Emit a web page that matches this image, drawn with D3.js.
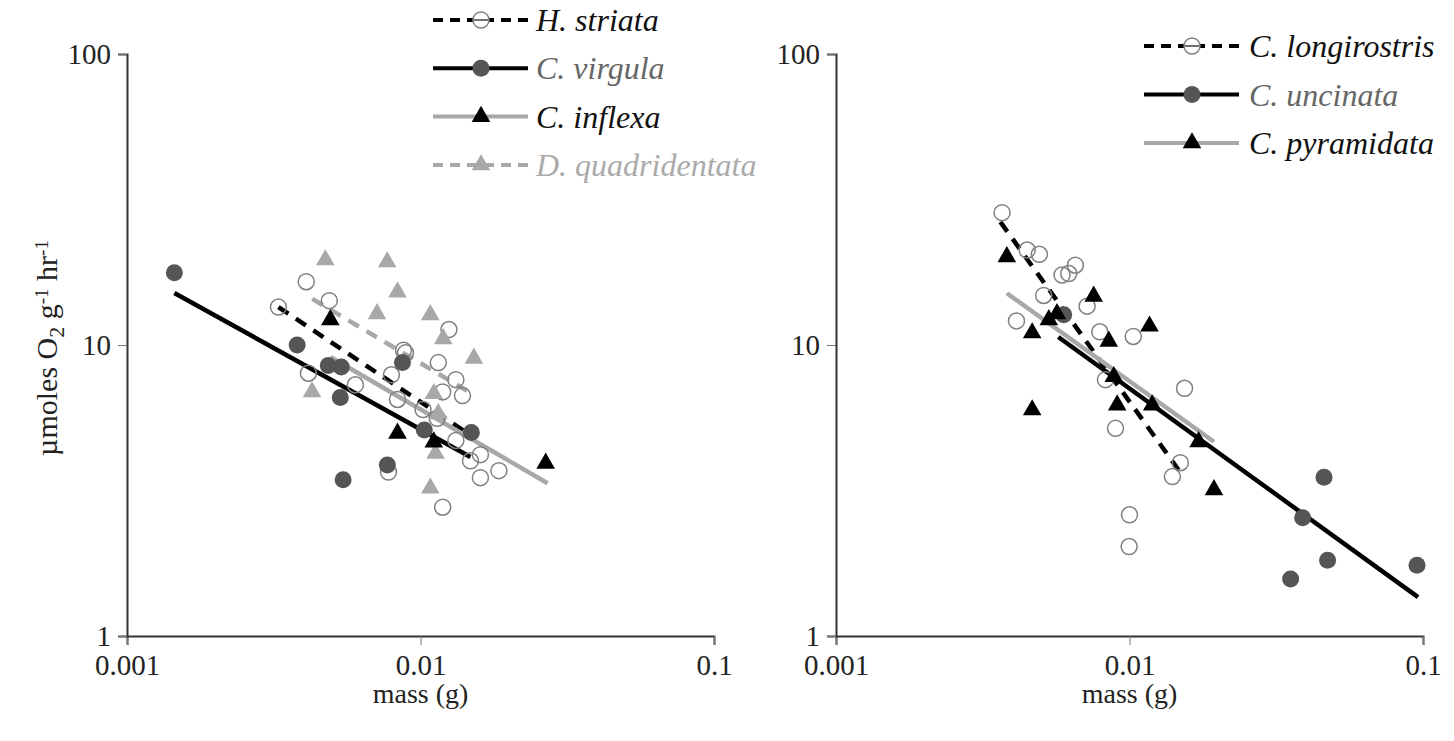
<!DOCTYPE html>
<html>
<head>
<meta charset="utf-8">
<script src="https://cdn.jsdelivr.net/npm/d3@7"></script>
<style>
  body { margin: 0; background: #fff; }
  svg text { font-family: "Liberation Serif", "Times New Roman", "DejaVu Serif", serif; }
</style>
</head>
<body>
<div id="chart"></div>
<script>
// mass (g), rate (umol O2 / g / hr)
const hStriata = [
  [0.00328, 13.5], [0.00408, 16.5], [0.00489, 14.2], [0.00415, 8.0], [0.0060, 7.3],
  [0.00796, 7.9], [0.00835, 6.5], [0.00875, 9.6], [0.00889, 9.4], [0.0102, 6.0],
  [0.0115, 8.7], [0.0119, 6.9], [0.0125, 11.3], [0.0132, 7.6], [0.0139, 6.7],
  [0.0114, 5.6], [0.0132, 4.7], [0.0148, 4.0], [0.0160, 4.2], [0.0160, 3.5],
  [0.0185, 3.7], [0.0119, 2.77], [0.00778, 3.66]
];
const cVirgula = [
  [0.00145, 17.7], [0.0038, 10.0], [0.00485, 8.5], [0.00537, 8.4], [0.00533, 6.6],
  [0.00545, 3.44], [0.00868, 8.7], [0.00771, 3.87], [0.0103, 5.1], [0.0149, 5.0]
];
const cInflexa = [
  [0.00493, 12.2], [0.00835, 4.97], [0.0111, 4.64], [0.0267, 3.92]
];
const dQuadridentata = [
  [0.00474, 19.6], [0.0077, 19.3], [0.00835, 15.2], [0.00711, 12.8], [0.0108, 12.7],
  [0.01195, 10.5], [0.00427, 6.9], [0.0111, 6.8], [0.0152, 9.0], [0.01125, 4.24],
  [0.0108, 3.22], [0.0115, 5.8]
];
const cLongirostris = [
  [0.00368, 28.5], [0.00448, 21.2], [0.00493, 20.5], [0.00589, 17.4], [0.00621, 17.6],
  [0.00654, 18.8], [0.0051, 14.8], [0.00717, 13.6], [0.00412, 12.1], [0.00792, 11.1],
  [0.0103, 10.7], [0.00828, 7.6], [0.0154, 7.1], [0.00896, 5.17], [0.0149, 3.94],
  [0.0140, 3.53], [0.0100, 2.61], [0.00997, 2.03]
];
const cUncinata = [
  [0.00597, 12.7], [0.046, 3.51], [0.0389, 2.55], [0.0473, 1.82], [0.0354, 1.57], [0.0954, 1.75]
];
const cPyramidata = [
  [0.00382, 20.1], [0.00466, 11.0], [0.00755, 14.7], [0.00531, 12.2], [0.00566, 12.8],
  [0.0085, 10.3], [0.0117, 11.6], [0.00908, 6.22], [0.00884, 7.78], [0.01195, 6.22],
  [0.0172, 4.65], [0.0194, 3.18], [0.00466, 5.98]
];

// fitted lines: [start, end]
const fitHStriata = [[0.00328, 13.5], [0.0153, 4.79]];
const fitCVirgula = [[0.00145, 15.1], [0.0148, 4.12]];
const fitCInflexa = [[0.00493, 9.09], [0.0271, 3.35]];
const fitDQuadridentata = [[0.00428, 14.4], [0.0150, 6.79]];
const fitCLongirostris = [[0.00363, 26.5], [0.0147, 3.72]];
const fitCUncinata = [[0.00572, 10.65], [0.0962, 1.36]];
const fitCPyramidata = [[0.00382, 15.06], [0.0194, 4.65]];

const xTicks = [0.001, 0.01, 0.1];
const yTicks = [1, 10, 100];
const xTickLabels = ["0.001", "0.01", "0.1"];
const yTickLabels = ["1", "10", "100"];

const W = 1454, H = 741;
const DARK = "#555", LIGHT = "#a8a8a8", OPEN = "#808080";

const svg = d3.select("#chart").append("svg")
  .attr("width", W).attr("height", H);

const styles = {
  hStriata: { marker: "open", line: "#000", dash: "12,9", text: "#111" },
  cVirgula: { marker: "dot", line: "#000", dash: null, text: "#666" },
  cInflexa: { marker: "tri", fill: "#000", line: LIGHT, dash: null, text: "#111" },
  dQuad: { marker: "tri", fill: LIGHT, line: LIGHT, dash: "12,9", text: "#aaa" },
  cLong: { marker: "open", line: "#000", dash: "12,9", text: "#111" },
  cUnc: { marker: "dot", line: "#000", dash: null, text: "#666" },
  cPyr: { marker: "tri", fill: "#000", line: LIGHT, dash: null, text: "#111" }
};

function drawMarker(g, st, cx, cy) {
  if (st.marker === "open") {
    g.append("circle").attr("cx", cx).attr("cy", cy).attr("r", 8)
      .attr("fill", "none").attr("stroke", OPEN).attr("stroke-width", 1.5);
  } else if (st.marker === "dot") {
    g.append("circle").attr("cx", cx).attr("cy", cy).attr("r", 8.5)
      .attr("fill", DARK);
  } else {
    g.append("path")
      .attr("transform", `translate(${cx},${cy})`)
      .attr("d", d3.symbol(d3.symbolTriangle, 150)())
      .attr("fill", st.fill);
  }
}

function panel(x0, series, legend) {
  const x = d3.scaleLog().domain([0.001, 0.1]).range([x0, x0 + 587]);
  const y = d3.scaleLog().domain([1, 100]).range([636, 54]);
  const g = svg.append("g");

  const xAxis = g.append("g")
    .attr("transform", "translate(0,636)")
    .call(d3.axisBottom(x).tickValues(xTicks).tickSizeOuter(0).tickSize(9)
      .tickFormat((d, i) => xTickLabels[i]));
  const yAxis = g.append("g")
    .attr("transform", `translate(${x0},0)`)
    .call(d3.axisLeft(y).tickValues(yTicks).tickSizeOuter(0).tickSize(9)
      .tickFormat((d, i) => yTickLabels[i]));
  [xAxis, yAxis].forEach(a => {
    a.attr("font-family", null).attr("font-size", null);
    a.select(".domain").attr("stroke", "#333").attr("stroke-width", 2);
    a.selectAll(".tick line").attr("stroke", "#777").attr("stroke-width", 1);
    a.selectAll(".tick text").attr("fill", "#222")
      .attr("font-size", 29).style("font-size", "29px");
  });
  xAxis.selectAll(".tick text").attr("y", 11).attr("dy", "0.95em");
  yAxis.selectAll(".tick text").attr("x", -16).attr("dy", "0.34em");

  g.append("text")
    .attr("x", x(0.01)).attr("y", 703)
    .attr("text-anchor", "middle").attr("fill", "#222")
    .style("font-size", "28px").text("mass (g)");

  const line = d3.line().x(d => x(d[0])).y(d => y(d[1]));
  series.forEach(s => {
    g.append("path").datum(s.fit)
      .attr("d", line).attr("fill", "none")
      .attr("stroke", s.st.line).attr("stroke-width", 4.5)
      .attr("stroke-dasharray", s.st.dash);
  });
  series.forEach(s => {
    s.pts.forEach(p => drawMarker(g, s.st, x(p[0]), y(p[1])));
  });

  // legend
  legend.rows.forEach((r, i) => {
    const ly = legend.y + i * legend.step;
    const lx = legend.x;
    g.append("line")
      .attr("x1", lx).attr("x2", lx + 95).attr("y1", ly).attr("y2", ly)
      .attr("stroke", r.st.line).attr("stroke-width", 4)
      .attr("stroke-dasharray", r.st.dash ? "10,7" : null);
    if (r.st.marker === "open") {
      g.append("circle").attr("cx", lx + 48).attr("cy", ly).attr("r", 8)
        .attr("fill", "#fff").attr("stroke", OPEN).attr("stroke-width", 1.5);
      g.append("line").attr("x1", lx + 41).attr("x2", lx + 55)
        .attr("y1", ly).attr("y2", ly).attr("stroke", "#444").attr("stroke-width", 1.5);
    } else {
      drawMarker(g, r.st, lx + 48, ly);
    }
    g.append("text")
      .attr("x", lx + legend.tx).attr("y", ly + 11)
      .attr("fill", r.st.text).style("font-size", "32px").style("font-style", "italic")
      .text(r.name);
  });
}

panel(127, [
  { pts: hStriata, fit: fitHStriata, st: styles.hStriata },
  { pts: dQuadridentata, fit: fitDQuadridentata, st: styles.dQuad },
  { pts: cInflexa, fit: fitCInflexa, st: styles.cInflexa },
  { pts: cVirgula, fit: fitCVirgula, st: styles.cVirgula }
], {
  x: 433, y: 20, step: 48.3, tx: 103,
  rows: [
    { name: "H. striata", st: styles.hStriata },
    { name: "C. virgula", st: styles.cVirgula },
    { name: "C. inflexa", st: styles.cInflexa },
    { name: "D. quadridentata", st: styles.dQuad }
  ]
});

panel(836, [
  { pts: cLongirostris, fit: fitCLongirostris, st: styles.cLong },
  { pts: cUncinata, fit: fitCUncinata, st: styles.cUnc },
  { pts: cPyramidata, fit: fitCPyramidata, st: styles.cPyr }
], {
  x: 1144, y: 46, step: 48.5, tx: 105,
  rows: [
    { name: "C. longirostris", st: styles.cLong },
    { name: "C. uncinata", st: styles.cUnc },
    { name: "C. pyramidata", st: styles.cPyr }
  ]
});

// y axis title
const yt = svg.append("text")
  .attr("transform", "translate(57,348) rotate(-90)")
  .attr("text-anchor", "middle").attr("fill", "#222")
  .style("font-size", "30px");
yt.append("tspan").text("\u00b5moles O");
yt.append("tspan").attr("baseline-shift", "-30%").style("font-size", "22px").text("2");
yt.append("tspan").text(" g");
yt.append("tspan").attr("baseline-shift", "50%").style("font-size", "19px").text("-1");
yt.append("tspan").text(" hr");
yt.append("tspan").attr("baseline-shift", "50%").style("font-size", "19px").text("-1");
</script>
</body>
</html>
